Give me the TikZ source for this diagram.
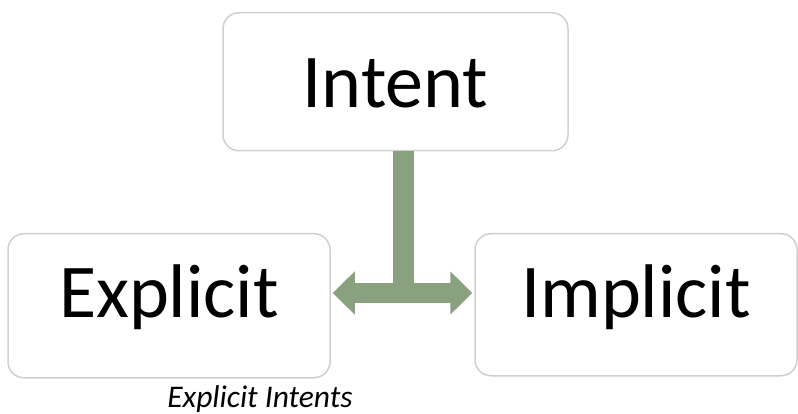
\documentclass[tikz,border=0pt]{standalone}
\usepackage{fontspec}
\setmainfont{Carlito}
\usetikzlibrary{arrows.meta, positioning}

\definecolor{boxgray}{RGB}{208,208,208}
\definecolor{linkgreen}{RGB}{138,161,127}

\begin{document}
\begin{tikzpicture}[x=1pt, y=-1pt, >={Triangle[width=42pt,length=22pt]},
    box/.style={draw=boxgray, line width=1.5pt, rounded corners=16pt, inner xsep=0pt, inner ysep=0pt, font=\fontsize{76}{80}\selectfont},
    link/.style={draw=linkgreen, line width=20pt}]
    \useasboundingbox (0,0) rectangle (798,414);

    \node[box, minimum width=345pt, text height=95pt, text depth=43pt] (intent) at (395.5,12) [anchor=north] {Intent};
    \node[box, minimum width=322pt, text height=84pt, text depth=60pt] (explicit) at (169,233) [anchor=north] {Explicit};
    \node[box, minimum width=322pt, text height=84pt, text depth=58pt] (implicit) at (636,233) [anchor=north] {Implicit};
    \node[font=\fontsize{31.5}{34}\selectfont\itshape, anchor=base] (caption) at (260,407) {Explicit Intents};

    % connector
    \coordinate (junction) at (403.5,293);
    \draw[link, line width=21pt] (intent.south -| junction) -- ([yshift=-10pt]junction);
    \draw[link, <->, shorten <=2pt, shorten >=2pt] (explicit.east |- junction) -- (implicit.west |- junction);
\end{tikzpicture}
\end{document}
